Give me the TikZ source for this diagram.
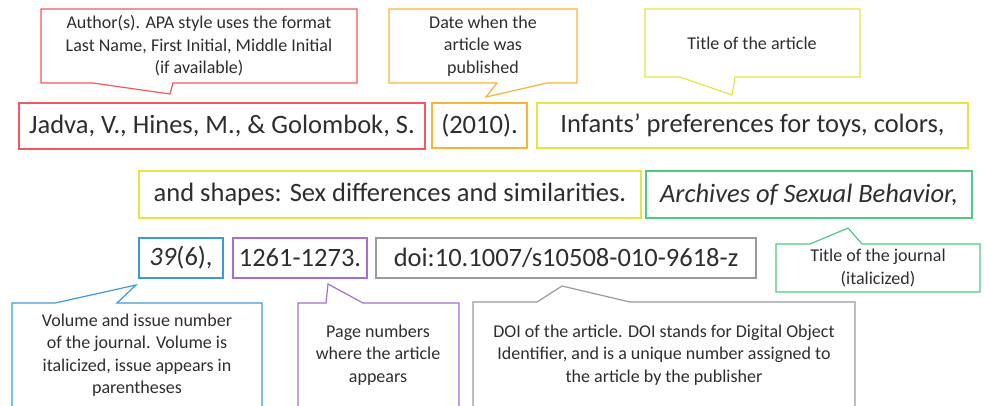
\documentclass[tikz,border=0pt]{standalone}
\usepackage{fontspec}
\setmainfont{Carlito}
\definecolor{cred}{HTML}{F5575C}
\definecolor{corange}{HTML}{F7B533}
\definecolor{cyellow}{HTML}{E6E445}
\definecolor{cgreen}{HTML}{4FC985}
\definecolor{cblue}{HTML}{3D9AD9}
\definecolor{cpurple}{HTML}{A46FD6}
\definecolor{cgray}{HTML}{9A9A9A}
\definecolor{ctext}{HTML}{2E2E2E}
\begin{document}
\begin{tikzpicture}[x=1pt,y=-1pt,
  mainbox/.style={draw, line width=1.3pt, inner sep=0pt, text=ctext, font=\fontsize{26.5}{30}\selectfont},
  callout/.style={line width=1.2pt, line join=miter},
  note/.style={text=ctext, align=center, inner sep=0pt, font=\fontsize{18}{22.5}\selectfont}]
\useasboundingbox (0,0) rectangle (984,405);
\clip (0,0) rectangle (984,405);

% main boxes
\node[mainbox, draw=cred, minimum width=406pt, minimum height=46pt] (auth) at (222,126) {Jadva, V., Hines, M., \& Golombok, S.};
\node[mainbox, draw=corange, minimum width=95pt, minimum height=45pt] (year) at (479.5,125.5) {(2010).};
\node[mainbox, draw=cyellow, minimum width=431pt, minimum height=45pt] (title1) at (752.5,125.5) {Infants’ preferences for toys, colors,};
\node[mainbox, draw=cyellow, minimum width=502pt, minimum height=47pt] (title2) at (390,194.5) {and shapes: Sex differences and similarities.};
\node[mainbox, draw=cgreen, minimum width=326pt, minimum height=47pt] (journal) at (809,194.5) {\itshape Archives of Sexual Behavior,};
\node[mainbox, draw=cblue, minimum width=84pt, minimum height=40pt] (vol) at (181,258) {\textit{39}(6),};
\node[mainbox, draw=cpurple, minimum width=134pt, minimum height=40pt] (pages) at (300,258) {1261-1273.};
\node[mainbox, draw=cgray, minimum width=380pt, minimum height=40pt] (doi) at (566,258) {doi:10.1007/s10508-010-9618-z};

% callout tips
\coordinate (tipA) at (170,94);
\coordinate (tipB) at (486,97);
\coordinate (tipC) at (732,95);
\coordinate (tipD) at (848,228);
\coordinate (tipE) at (136,285);
\coordinate (tipF) at (328,284);
\coordinate (tipG) at (562,286);

% callouts
\draw[callout, cred] (41,9) -- (357,9) -- (357,83) -- (173,83) -- (tipA) -- (93,83) -- (41,83) -- cycle;
\node[note] (authnote) at (199,46) {Author(s). APA style uses the format\\Last Name, First Initial, Middle Initial\\(if available)};

\draw[callout, corange] (389,9) -- (577,9) -- (577,83) -- (547,83) -- (tipB) -- (497,83) -- (389,83) -- cycle;
\node[note] (yearnote) at (483,46) {Date when the\\article was\\published};

\draw[callout, cyellow] (645,9) -- (860,9) -- (860,77) -- (735,77) -- (tipC) -- (680,77) -- (645,77) -- cycle;
\node[note] (titlenote) at (752,43) {Title of the article};

\draw[callout, cgreen] (776,244) -- (810,244) -- (tipD) -- (862,244) -- (980,244) -- (980,292) -- (776,292) -- cycle;
\node[note] (journalnote) at (878,268) {Title of the journal\\(italicized)};

\draw[callout, cblue] (12,420) -- (12,303) -- (55,303) -- (tipE) -- (117,303) -- (262,303) -- (262,420);
\node[note] (volnote) at (137,355) {Volume and issue number\\of the journal. Volume is\\italicized, issue appears in\\parentheses};

\draw[callout, cpurple] (298,420) -- (298,303) -- (326,303) -- (tipF) -- (363,303) -- (459,303) -- (459,420);
\node[note] (pagesnote) at (378,355) {Page numbers\\where the article\\appears};

\draw[callout, cgray] (473,420) -- (473,302) -- (537,302) -- (tipG) -- (630,302) -- (855,302) -- (855,420);
\node[note] (doinote) at (664,355) {DOI of the article. DOI stands for Digital Object\\Identifier, and is a unique number assigned to\\the article by the publisher};
\end{tikzpicture}
\end{document}
